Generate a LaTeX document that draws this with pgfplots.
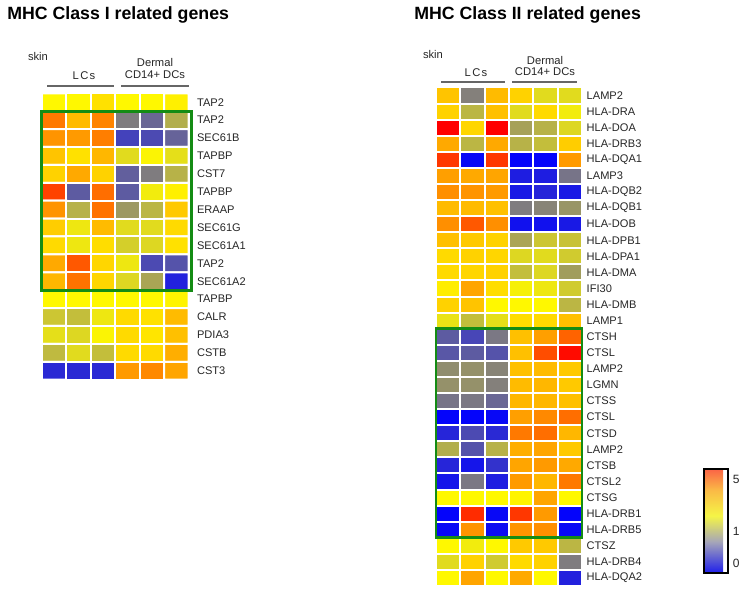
\documentclass[border=0pt]{standalone}
\usepackage{pgfplots}
\pgfplotsset{compat=1.18}
\usepackage{fontspec}
\setmainfont{Liberation Sans}

\pgfplotsset{
 colormap={fadedmap}{rgb255(0)=(30,30,235) rgb255(3)=(165,165,185) rgb255(5.5)=(245,245,70) rgb255(8)=(250,185,70) rgb255(10)=(250,100,70)},
 colormap={hm}{rgb255(0)=(0,0,255) rgb255(6)=(255,248,0) rgb255(7)=(255,210,0) rgb255(8)=(255,165,0) rgb255(9)=(255,110,0) rgb255(10)=(255,0,0)},
 hmstyle/.style={scale only axis, anchor=north west, xmin=0.5, xmax=6.5,
   y dir=reverse, enlargelimits=false, axis line style={draw=none},
   major tick length=0, xtick=\empty, yticklabel pos=right,
   colormap name=hm, point meta min=0, point meta max=10, clip=false,
   yticklabel style={font=\fontsize{8.3}{9}\selectfont, text=black!85}},
 cells/.style={matrix plot*, mesh/cols=6, point meta=explicit, shader=faceted, faceted color=white, line width=1.5pt},
}
\definecolor{boxgreen}{RGB}{20,140,20}

\begin{document}
\begin{tikzpicture}[x=0.75pt,y=0.75pt]
\path[use as bounding box] (0,0) rectangle (745,591);

% ---------------- Left heatmap ----------------
\begin{axis}[hmstyle, at={(31.5pt,373.28pt)}, width=109.9pt, height=214.8pt,
  ymin=0.5, ymax=16.5, ytick={1,...,16},
  yticklabel style={xshift=2.9pt},
  yticklabels={TAP2,TAP2,SEC61B,TAPBP,CST7,TAPBP,ERAAP,SEC61G,SEC61A1,TAP2,SEC61A2,TAPBP,CALR,PDIA3,CSTB,CST3}]
\addplot[cells] table[meta=c]{
x y c
1 1 6.0
2 1 6.0
3 1 6.6
4 1 6.0
5 1 6.0
6 1 6.2
1 2 8.8
2 2 7.5
3 2 8.6
4 2 3.0
5 2 2.5
6 2 4.2
1 3 8.3
2 3 8.2
3 3 8.7
4 3 1.6
5 3 1.8
6 3 2.4
1 4 7.3
2 4 6.6
3 4 7.6
4 4 5.3
5 4 5.9
6 4 5.4
1 5 7.0
2 5 7.9
3 5 7.0
4 5 2.3
5 5 3.0
6 5 4.3
1 6 9.4
2 6 2.2
3 6 9.0
4 6 2.2
5 6 5.7
6 6 6.2
1 7 8.3
2 7 4.3
3 7 8.9
4 7 3.7
5 7 4.4
6 7 7.2
1 8 7.1
2 8 5.6
3 8 7.5
4 8 5.3
5 8 5.3
6 8 6.8
1 9 6.8
2 9 5.6
3 9 6.7
4 9 5.0
5 9 5.2
6 9 6.6
1 10 7.9
2 10 9.2
3 10 6.9
4 10 5.6
5 10 1.8
6 10 2.0
1 11 7.6
2 11 8.9
3 11 6.9
4 11 5.2
5 11 4.0
6 11 0.8
1 12 6.0
2 12 6.0
3 12 6.0
4 12 6.0
5 12 6.0
6 12 6.1
1 13 4.8
2 13 4.6
3 13 5.6
4 13 6.8
5 13 6.6
6 13 7.5
1 14 5.4
2 14 5.2
3 14 5.9
4 14 6.8
5 14 6.5
6 14 7.4
1 15 4.5
2 15 5.3
3 15 4.6
4 15 6.8
5 15 6.8
6 15 7.8
1 16 1.0
2 16 1.0
3 16 1.0
4 16 8.2
5 16 8.5
6 16 8.0
};
\draw[boxgreen, line width=2.2pt] (axis cs:0.49,1.5) rectangle (axis cs:6.64,11.5);
\end{axis}

% ---------------- Right heatmap ----------------
\begin{axis}[hmstyle, at={(327pt,377.63pt)}, width=109.5pt, height=373.9pt,
  ymin=0.5, ymax=31.5, ytick={1,...,31},
  yticklabels={LAMP2,HLA-DRA,HLA-DOA,HLA-DRB3,HLA-DQA1,LAMP3,HLA-DQB2,HLA-DQB1,HLA-DOB,HLA-DPB1,HLA-DPA1,HLA-DMA,IFI30,HLA-DMB,LAMP1,CTSH,CTSL,LAMP2,LGMN,CTSS,CTSL,CTSD,LAMP2,CTSB,CTSL2,CTSG,HLA-DRB1,HLA-DRB5,CTSZ,HLA-DRB4,HLA-DQA2},
  colorbar,
  colorbar style={colormap name=fadedmap, at={(parent axis.south east)}, anchor=south west,
    xshift=83pt, yshift=9.75pt, scale only axis, width=18pt, height=78pt,
    ytick={0.9,4,9}, yticklabels={0,1,5}, major tick length=0,
    axis line style={line width=1.1pt, black},
    yticklabel style={font=\fontsize{9}{10}\selectfont, text=black!85}}]
\addplot[cells] table[meta=c]{
x y c
1 1 7.3
2 1 3.1
3 1 7.5
4 1 7.0
5 1 5.3
6 1 5.3
1 2 7.0
2 2 4.4
3 2 7.4
4 2 5.3
5 2 6.8
6 2 5.7
1 3 10
2 3 6.9
3 3 10
4 3 3.9
5 3 4.3
6 3 5.2
1 4 7.9
2 4 4.4
3 4 7.9
4 4 4.3
5 4 4.6
6 4 7.1
1 5 9.5
2 5 0.2
3 5 9.5
4 5 0.1
5 5 0.1
6 5 8.2
1 6 8.1
2 6 7.9
3 6 8.0
4 6 0.7
5 6 0.7
6 6 2.8
1 7 8.4
2 7 8.3
3 7 8.2
4 7 0.6
5 7 0.9
6 7 0.6
1 8 7.5
2 8 7.5
3 8 7.4
4 8 3.0
5 8 3.2
6 8 3.6
1 9 8.4
2 9 9.2
3 9 8.4
4 9 0.4
5 9 0.4
6 9 0.6
1 10 7.4
2 10 7.2
3 10 7.0
4 10 4.0
5 10 4.8
6 10 4.7
1 11 6.8
2 11 7.0
3 11 6.9
4 11 5.2
5 11 5.3
6 11 4.9
1 12 6.8
2 12 6.9
3 12 7.0
4 12 4.6
5 12 5.2
6 12 3.8
1 13 6.3
2 13 8.0
3 13 6.7
4 13 5.8
5 13 5.6
6 13 4.9
1 14 7.0
2 14 7.3
3 14 6.0
4 14 6.0
5 14 6.0
6 14 4.4
1 15 5.5
2 15 4.6
3 15 5.4
4 15 6.7
5 15 6.8
6 15 7.4
1 16 2.2
2 16 1.7
3 16 2.9
4 16 7.4
5 16 8.1
6 16 9.1
1 17 2.1
2 17 2.2
3 17 2.0
4 17 7.4
5 17 9.3
6 17 9.9
1 18 3.4
2 18 3.5
3 18 3.2
4 18 7.4
5 18 7.5
6 18 7.2
1 19 3.5
2 19 3.5
3 19 3.1
4 19 7.5
5 19 7.6
6 19 7.2
1 20 2.8
2 20 2.9
3 20 2.5
4 20 7.6
5 20 7.6
6 20 7.4
1 21 0.1
2 21 0.1
3 21 0.2
4 21 8.1
5 21 8.5
6 21 9.0
1 22 0.9
2 22 1.8
3 22 1.0
4 22 8.8
5 22 9.0
6 22 7.6
1 23 4.2
2 23 2.0
3 23 4.3
4 23 7.8
5 23 8.0
6 23 7.2
1 24 0.9
2 24 0.5
3 24 1.2
4 24 8.0
5 24 8.2
6 24 7.9
1 25 0.5
2 25 2.9
3 25 0.7
4 25 8.2
5 25 7.6
6 25 8.8
1 26 6.0
2 26 6.0
3 26 6.0
4 26 6.1
5 26 8.0
6 26 6.0
1 27 0.1
2 27 9.6
3 27 0.2
4 27 9.5
5 27 8.2
6 27 0.1
1 28 0.2
2 28 8.3
3 28 0.3
4 28 8.3
5 28 8.4
6 28 0.2
1 29 6.0
2 29 5.7
3 29 6.0
4 29 7.2
5 29 7.2
6 29 4.4
1 30 5.3
2 30 7.0
3 30 4.9
4 30 6.8
5 30 7.0
6 30 3.0
1 31 6.0
2 31 8.0
3 31 6.0
4 31 7.9
5 31 6.0
6 31 0.8
};
\draw[boxgreen, line width=2.2pt] (axis cs:0.5,15.5) rectangle (axis cs:6.5,28.5);
\end{axis}

% ---------------- Titles and header labels ----------------
\node[anchor=base west, inner sep=0, font=\fontsize{13.3}{15}\selectfont\bfseries] at (7,571.5) {MHC Class I related genes};
\node[anchor=base west, inner sep=0, font=\fontsize{13.3}{15}\selectfont\bfseries] at (414,571.5) {MHC Class II related genes};

\begin{scope}[every node/.style={font=\fontsize{8.4}{10}\selectfont, text=black!85, inner sep=0}]
\node at (38,534) {skin};
\node at (84,515) {\addfontfeature{LetterSpace=12}LCs};
\node at (155,528) {Dermal};
\node at (155,516) {CD14+ DCs};
\draw[black!60, line width=0.8pt] (47,505) -- (114,505);
\draw[black!60, line width=0.8pt] (121,505) -- (189,505);

\node at (433,536) {skin};
\node at (476,518) {\addfontfeature{LetterSpace=12}LCs};
\node at (545,530) {Dermal};
\node at (545,519) {CD14+ DCs};
\draw[black!60, line width=0.8pt] (441,509) -- (505,509);
\draw[black!60, line width=0.8pt] (512,509) -- (577,509);
\end{scope}
\end{tikzpicture}
\end{document}
